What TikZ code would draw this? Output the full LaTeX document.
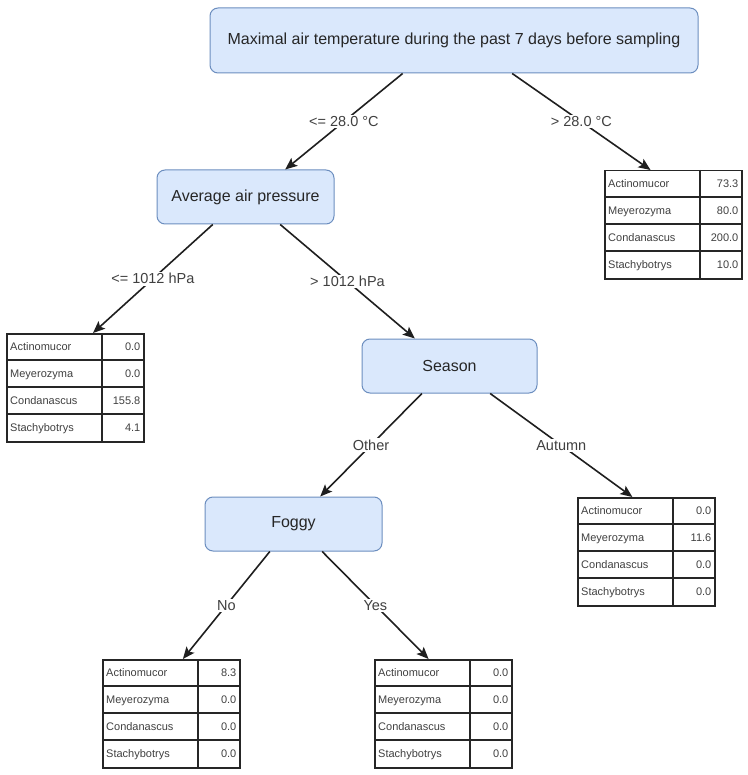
\documentclass[tikz,border=0pt]{standalone}
\usepackage{fontspec}
\setmainfont{Liberation Sans}
\usetikzlibrary{calc,arrows.meta}
\definecolor{nodefill}{HTML}{DAE8FC}
\definecolor{nodeline}{HTML}{6C8EBF}
\definecolor{labeltext}{HTML}{404040}
\tikzset{
 dnode/.style={draw=nodeline, fill=nodefill, rounded corners=8pt, line width=1pt, font=\fontsize{16}{19}\selectfont, inner sep=0pt, text=black!85},
 elabel/.style={fill=white, inner sep=1.5pt, font=\fontsize{14.5}{17}\selectfont, text=labeltext},
 conn/.style={line width=1.6pt, -{Stealth[length=12pt,width=10pt,inset=2.5pt]}, color=black!88},
 tbox/.style={draw=black!85, line width=1.5pt, minimum width=137pt, minimum height=108pt, anchor=north west, inner sep=0pt},
 tline/.style={draw=black!85, line width=1.2pt},
 ttext/.style={font=\fontsize{11}{13}\selectfont, inner sep=0pt, text=black!75},
}
\newcommand{\leaftable}[7]{%
 \node[tbox] (#1) at (#2,#3) {};
 \draw[tline] ($(#1.north west)+(96,0)$) -- ($(#1.south west)+(96,0)$);
 \foreach \ri in {1,2,3} {\draw[tline] ($(#1.north west)+(0,27*\ri)$) -- ($(#1.north east)+(0,27*\ri)$);}
 \node[ttext, anchor=base west] (#1-l1) at ($(#1.north west)+(4,17.5)$) {Actinomucor};
 \node[ttext, anchor=base west] (#1-l2) at ($(#1.north west)+(4,44.5)$) {Meyerozyma};
 \node[ttext, anchor=base west] (#1-l3) at ($(#1.north west)+(4,71.5)$) {Condanascus};
 \node[ttext, anchor=base west] (#1-l4) at ($(#1.north west)+(4,98.5)$) {Stachybotrys};
 \node[ttext, anchor=base east] (#1-v1) at ($(#1.north east)+(-4,17.5)$) {#4};
 \node[ttext, anchor=base east] (#1-v2) at ($(#1.north east)+(-4,44.5)$) {#5};
 \node[ttext, anchor=base east] (#1-v3) at ($(#1.north east)+(-4,71.5)$) {#6};
 \node[ttext, anchor=base east] (#1-v4) at ($(#1.north east)+(-4,98.5)$) {#7};
}
\begin{document}
\begin{tikzpicture}[x=1pt,y=-1pt]
\useasboundingbox (0,0) rectangle (747,775);

\node[dnode, minimum width=488pt, minimum height=65pt] (top) at (454,40.5) {Maximal air temperature during the past 7 days before sampling};
\node[dnode, minimum width=177pt, minimum height=54pt] (avg) at (245.5,197) {Average air pressure};
\node[dnode, minimum width=175pt, minimum height=54pt] (season) at (449.5,366) {Season};
\node[dnode, minimum width=177pt, minimum height=54pt] (foggy) at (293.5,524) {Foggy};

\leaftable{tR}{604}{170}{73.3}{80.0}{200.0}{10.0}
\leaftable{tL}{6}{333}{0.0}{0.0}{155.8}{4.1}
\leaftable{tA}{577}{497}{0.0}{11.6}{0.0}{0.0}
\leaftable{tN}{102}{659}{8.3}{0.0}{0.0}{0.0}
\leaftable{tY}{374}{659}{0.0}{0.0}{0.0}{0.0}

\draw[conn] ($(top.south west)!0.395!(top.south east)$) -- node[elabel] (l1) {<= 28.0 °C} ($(avg.north west)!0.723!(avg.north east)$);
\draw[conn] ($(top.south west)!0.619!(top.south east)$) -- node[elabel] (l2) {> 28.0 °C} ($(tR.north west)!0.336!(tR.north east)$);
\draw[conn] ($(avg.south west)!0.316!(avg.south east)$) -- node[elabel] (l3) {<= 1012 hPa} ($(tL.north west)!0.628!(tL.north east)$);
\draw[conn] ($(avg.south west)!0.695!(avg.south east)$) -- node[elabel] (l4) {> 1012 hPa} ($(season.north west)!0.303!(season.north east)$);
\draw[conn] ($(season.south west)!0.343!(season.south east)$) -- node[elabel] (l5) {Other} ($(foggy.north west)!0.65!(foggy.north east)$);
\draw[conn] ($(season.south west)!0.731!(season.south east)$) -- node[elabel] (l6) {Autumn} ($(tA.north west)!0.40!(tA.north east)$);
\draw[conn] ($(foggy.south west)!0.367!(foggy.south east)$) -- node[elabel] (l7) {No} ($(tN.north west)!0.584!(tN.north east)$);
\draw[conn] ($(foggy.south west)!0.661!(foggy.south east)$) -- node[elabel] (l8) {Yes} ($(tY.north west)!0.394!(tY.north east)$);
\end{tikzpicture}
\end{document}
